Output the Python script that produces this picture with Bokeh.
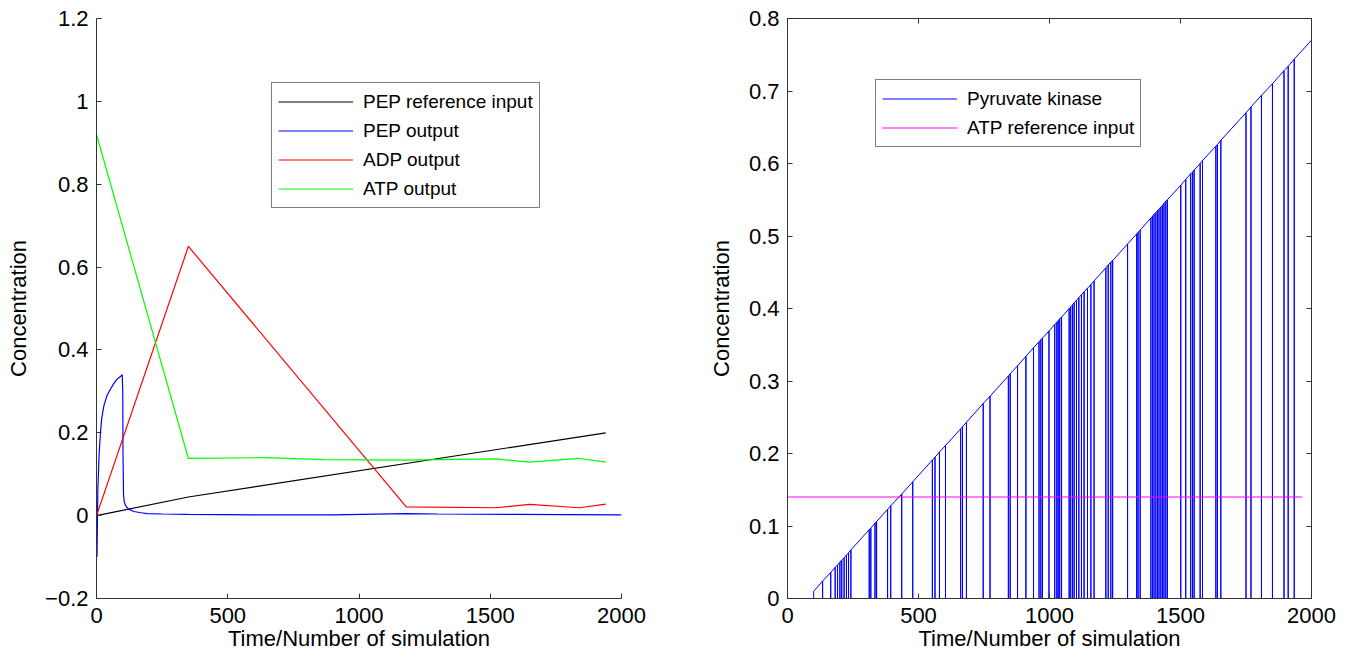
from bokeh.plotting import figure
from bokeh.layouts import row
from bokeh.models import (FixedTicker, Legend, LegendItem, LinearAxis,
                          CustomJSTickFormatter, Range1d)
from bokeh.embed import file_html
from bokeh.resources import INLINE

# ---------------- data: left panel ----------------
pep_ref_t = [0, 350, 1940]
pep_ref_v = [0.0, 0.045, 0.2]

pep_out_t = [0, 2, 5, 10, 15, 20, 28, 40, 53, 65, 79, 90, 98, 100, 101, 103, 106,
             111, 120, 142, 170, 193, 250, 350, 600, 900, 1180, 1300, 1600, 2000]
pep_out_v = [0.0, -0.10, 0.06, 0.15, 0.20, 0.235, 0.265, 0.29, 0.305, 0.318, 0.33,
             0.335, 0.34, 0.30, 0.15, 0.05, 0.032, 0.024, 0.017, 0.010, 0.007,
             0.005, 0.004, 0.003, 0.002, 0.002, 0.005, 0.004, 0.003, 0.002]

adp_t = [0, 350, 1180, 1520, 1650, 1840, 1940]
adp_v = [0.0, 0.65, 0.021, 0.019, 0.027, 0.019, 0.028]

atp_t = [0, 350, 640, 870, 1180, 1520, 1650, 1840, 1940]
atp_v = [0.92, 0.138, 0.14, 0.135, 0.134, 0.137, 0.129, 0.138, 0.129]

left_xticks = [0, 500, 1000, 1500, 2000]
left_yticks = [-0.2, 0, 0.2, 0.4, 0.6, 0.8, 1, 1.2]
left_ylabels = ["\u22120.2", "0", "0.2", "0.4", "0.6", "0.8", "1", "1.2"]

# ---------------- data: right panel ----------------
pk_ramp_t = [0, 100, 100, 2000]
pk_ramp_v = [0.0, 0.0, 0.01, 0.77]
pk_drop_t = [134, 165, 182, 191, 200, 207, 216, 225, 233, 242, 312, 318, 334, 340,
             382, 394, 436, 478, 553, 563, 580, 603, 661, 668, 683, 747, 773, 843,
             850, 878, 910, 939, 960, 967, 973, 998, 1020, 1028, 1033, 1039, 1046,
             1075, 1081, 1088, 1094, 1103, 1112, 1122, 1132, 1145, 1158, 1170, 1215,
             1224, 1234, 1241, 1298, 1333, 1338, 1346, 1387, 1393, 1399, 1406, 1412,
             1418, 1425, 1431, 1437, 1444, 1450, 1501, 1520, 1539, 1546, 1552, 1575,
             1584, 1635, 1641, 1654, 1750, 1769, 1809, 1851, 1895, 1911, 1934]
pk_drop_top = [0.024, 0.036, 0.043, 0.046, 0.050, 0.053, 0.056, 0.060, 0.063, 0.067,
               0.095, 0.097, 0.104, 0.106, 0.123, 0.128, 0.144, 0.161, 0.191, 0.195,
               0.202, 0.211, 0.234, 0.237, 0.243, 0.269, 0.279, 0.307, 0.310, 0.321,
               0.334, 0.346, 0.354, 0.357, 0.359, 0.369, 0.378, 0.381, 0.383, 0.386,
               0.388, 0.400, 0.402, 0.405, 0.408, 0.411, 0.415, 0.419, 0.423, 0.428,
               0.433, 0.438, 0.456, 0.460, 0.464, 0.466, 0.489, 0.503, 0.505, 0.508,
               0.525, 0.527, 0.530, 0.532, 0.535, 0.537, 0.540, 0.542, 0.545, 0.548,
               0.550, 0.570, 0.578, 0.586, 0.588, 0.591, 0.600, 0.604, 0.624, 0.626,
               0.632, 0.670, 0.678, 0.694, 0.710, 0.728, 0.734, 0.744]

atp_ref_t = [0, 1965]
atp_ref_v = [0.14, 0.14]

right_xticks = [0, 500, 1000, 1500, 2000]
right_yticks = [0, 0.1, 0.2, 0.3, 0.4, 0.5, 0.6, 0.7, 0.8]
right_ylabels = ["0", "0.1", "0.2", "0.3", "0.4", "0.5", "0.6", "0.7", "0.8"]

FONT = "Liberation Sans"
AXIS_COLOR = "#333333"


def label_formatter(tvals, tlabels):
    return CustomJSTickFormatter(
        args=dict(tvals=tvals, tlabels=tlabels),
        code="""
        for (let i = 0; i < tvals.length; i++) {
            if (Math.abs(tvals[i] - tick) < 1e-9) { return tlabels[i]; }
        }
        return "";
        """)


def style_axis(ax, ticks, show_labels=True, standoff=8):
    ax.ticker = FixedTicker(ticks=ticks)
    ax.axis_line_color = AXIS_COLOR
    ax.axis_line_width = 1
    ax.major_tick_line_color = AXIS_COLOR
    ax.major_tick_in = 5
    ax.major_tick_out = 0
    ax.minor_tick_line_color = None
    ax.major_label_text_font = FONT
    ax.major_label_text_font_size = "22px"
    ax.major_label_text_color = "black"
    ax.major_label_standoff = standoff
    ax.axis_label_text_font = FONT
    ax.axis_label_text_font_size = "22px"
    ax.axis_label_text_font_style = "normal"
    ax.axis_label_text_color = "black"
    if not show_labels:
        ax.major_label_text_font_size = "0px"
        ax.major_label_standoff = 0


def make_fig(width, left, right, xr, yr):
    p = figure(width=width, height=659, output_backend="svg", toolbar_location=None,
               x_range=Range1d(*xr), y_range=Range1d(*yr),
               min_border_left=left, min_border_right=right,
               min_border_top=18, min_border_bottom=61)
    p.grid.visible = False
    p.background_fill_color = "white"
    p.border_fill_color = "white"
    return p


def make_legend(items, loc):
    lg = Legend(items=items, location=loc, margin=0, padding=6,
                glyph_width=75, glyph_height=25, label_height=25, spacing=4,
                label_standoff=10, label_text_font=FONT,
                label_text_font_size="19px", label_text_color="black",
                border_line_color="black", border_line_width=1,
                background_fill_color="white", background_fill_alpha=1.0)
    return lg


# ---------------- left figure ----------------
p1 = make_fig(660, 96, 39, (0, 2000), (-0.2, 1.2))
p1.outline_line_color = None
r_ref = p1.line(pep_ref_t, pep_ref_v, line_color="black", line_width=1.2)
r_pep = p1.line(pep_out_t, pep_out_v, line_color="#0000ff", line_width=1.2)
r_adp = p1.line(adp_t, adp_v, line_color="#ff0000", line_width=1.2)
r_atp = p1.line(atp_t, atp_v, line_color="#00ff00", line_width=1.2)

style_axis(p1.xaxis[0], left_xticks, standoff=9)
style_axis(p1.yaxis[0], left_yticks, standoff=8)
p1.yaxis[0].formatter = label_formatter(left_yticks, left_ylabels)
p1.xaxis[0].axis_label = "Time/Number of simulation"
p1.yaxis[0].axis_label = "Concentration"
p1.xaxis[0].axis_label_standoff = 0
p1.yaxis[0].axis_label_standoff = 11

lg1 = make_legend([
    LegendItem(label="PEP reference input", renderers=[r_ref]),
    LegendItem(label="PEP output", renderers=[r_pep]),
    LegendItem(label="ADP output", renderers=[r_adp]),
    LegendItem(label="ATP output", renderers=[r_atp]),
], (175, 390))
p1.add_layout(lg1, "center")

# ---------------- right figure ----------------
p2 = make_fig(686, 127, 35, (0, 2000), (0, 0.8))
p2.outline_line_color = AXIS_COLOR
p2.outline_line_width = 1

# build the pyruvate kinase trace: ramp with drops to zero at listed times
pk_x = list(pk_ramp_t[:3])
pk_y = list(pk_ramp_v[:3])
for t, top in zip(pk_drop_t, pk_drop_top):
    pk_x += [t, t, t]
    pk_y += [top, 0.0, top]
pk_x.append(pk_ramp_t[3])
pk_y.append(pk_ramp_v[3])

r_pk = p2.line(pk_x, pk_y, line_color="#0000ff", line_width=1)
r_atpref = p2.line(atp_ref_t, atp_ref_v, line_color="#ff00ff", line_width=1.2)

style_axis(p2.xaxis[0], right_xticks, standoff=9)
style_axis(p2.yaxis[0], right_yticks, standoff=8)
p2.yaxis[0].formatter = label_formatter(right_yticks, right_ylabels)
p2.xaxis[0].axis_label = "Time/Number of simulation"
p2.yaxis[0].axis_label = "Concentration"
p2.xaxis[0].axis_label_standoff = 0
p2.yaxis[0].axis_label_standoff = 12

top_ax = LinearAxis()
style_axis(top_ax, right_xticks, show_labels=False)
top_ax.formatter = CustomJSTickFormatter(code="return ''")
p2.add_layout(top_ax, "above")
right_ax = LinearAxis()
style_axis(right_ax, right_yticks, show_labels=False)
right_ax.formatter = CustomJSTickFormatter(code="return ''")
p2.add_layout(right_ax, "right")

lg2 = make_legend([
    LegendItem(label="Pyruvate kinase", renderers=[r_pk]),
    LegendItem(label="ATP reference input", renderers=[r_atpref]),
], (88, 451))
p2.add_layout(lg2, "center")

layout = row(p1, p2)
open("out.html", "w").write(file_html(layout, INLINE))
